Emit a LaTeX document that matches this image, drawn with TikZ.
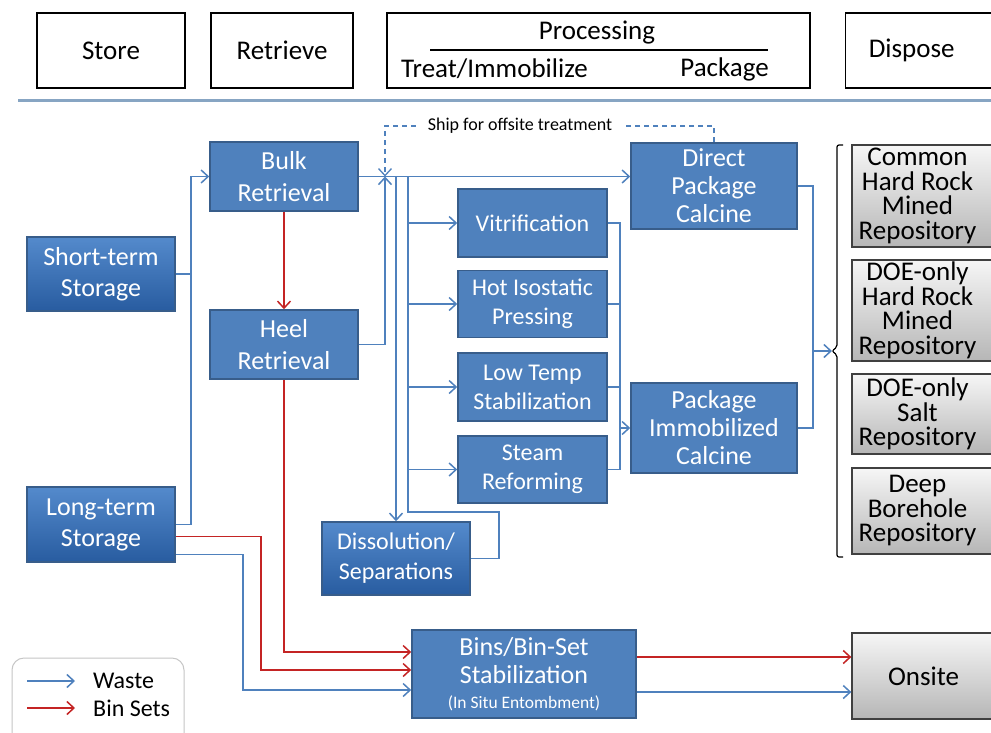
\documentclass[tikz,border=0pt]{standalone}
\usepackage{fontspec}
\setmainfont{Carlito}
\usetikzlibrary{arrows.meta,calc}
\definecolor{wblue}{RGB}{79,129,189}
\definecolor{bfill}{RGB}{79,129,189}
\definecolor{btop}{RGB}{84,138,204}
\definecolor{bbot}{RGB}{40,92,160}
\definecolor{bedge}{RGB}{56,93,138}
\definecolor{rline}{RGB}{196,36,36}
\definecolor{hline}{RGB}{135,165,195}
\definecolor{gtop}{RGB}{246,246,246}
\definecolor{gbot}{RGB}{182,182,182}
\definecolor{gedge}{RGB}{64,64,64}
\newcommand{\repotext}[1]{\hspace*{-12pt}\parbox{130pt}{\centering\setlength\lineskiplimit{-20pt}#1}}
\begin{document}
\begin{tikzpicture}[x=1pt,y=-1pt,
  >={Straight Barb[length=7pt,width=13pt]},
  hbox/.style={draw=black, line width=1.3pt, fill=white, inner sep=0pt, font=\fontsize{27}{32}\selectfont},
  htext/.style={inner sep=0pt, font=\fontsize{27}{32}\selectfont},
  bbox/.style={draw=bedge, line width=1.6pt, fill=bfill, text=white, align=center, inner sep=0pt, font=\fontsize{25}{28}\selectfont},
  bgrad/.style={bbox, top color=btop, bottom color=bbot},
  gbox/.style={draw=gedge, line width=1.3pt, top color=gtop, bottom color=gbot, inner sep=0pt, font=\fontsize{27}{24.5}\selectfont},
  wl/.style={draw=wblue, line width=1.5pt},
  rl/.style={draw=rline, line width=1.5pt},
  dl/.style={draw=wblue, line width=1.3pt, dash pattern=on 5pt off 4pt}
]
\useasboundingbox (0,0) rectangle (991,732);
\fill[white] (0,0) rectangle (991,732);

% header
\node[hbox, minimum width=148, minimum height=75] (store) at (111,50.5) {Store};
\node[hbox, minimum width=142, minimum height=75] (retr) at (282,50.5) {Retrieve};
\node[hbox, minimum width=423, minimum height=75] (proc) at (598.5,50.5) {};
\node[htext] (ptitle) at (597,33) {Processing};
\coordinate (pl1) at (430,50);
\coordinate (pl2) at (768,50);
\draw[line width=1.3pt] (pl1) -- (pl2);
\node[htext, anchor=west] (treat) at (401,69) {Treat/Immobilize};
\node[htext, anchor=east] (pack) at (769,69) {Package};
\node[hbox, minimum width=150, minimum height=75, anchor=west] (disp) at (845,50.5) {\hspace*{-18pt}Dispose};
\coordinate (hl1) at (18,100);
\coordinate (hl2) at (991,100);
\draw[hline, line width=3pt] (hl1) -- (hl2);

% blue boxes
\node[bgrad, minimum width=148, minimum height=74, font=\fontsize{26}{31}\selectfont] (st) at (101,274) {Short-term\\Storage};
\node[bgrad, minimum width=148, minimum height=75, font=\fontsize{26}{31}\selectfont] (lt) at (101,524.5) {Long-term\\Storage};
\node[bbox, minimum width=148, minimum height=69, font=\fontsize{26}{32}\selectfont] (bulk) at (284,176.5) {Bulk\\Retrieval};
\node[bbox, minimum width=148, minimum height=69, font=\fontsize{26}{32}\selectfont] (heel) at (284,344.5) {Heel\\Retrieval};
\node[bbox, minimum width=149, minimum height=68, font=\fontsize{24}{29}\selectfont] (vit) at (532.5,223) {Vitrification};
\node[bbox, minimum width=149, minimum height=67, font=\fontsize{24}{29}\selectfont] (hip) at (532.5,304) {Hot Isostatic\\Pressing};
\node[bbox, minimum width=149, minimum height=68, font=\fontsize{24}{29}\selectfont] (lts) at (532.5,387) {Low Temp\\Stabilization};
\node[bbox, minimum width=149, minimum height=67, font=\fontsize{24}{29}\selectfont] (steam) at (532.5,469.5) {Steam\\Reforming};
\node[bbox, minimum width=166, minimum height=86, font=\fontsize{26}{28}\selectfont] (dpc) at (714,186) {Direct\\Package\\Calcine};
\node[bbox, minimum width=166, minimum height=90, font=\fontsize{26}{28}\selectfont] (pic) at (714,428) {Package\\Immobilized\\Calcine};
\node[bgrad, minimum width=148, minimum height=73, font=\fontsize{24}{30}\selectfont] (diss) at (396,558.5) {Dissolution/\\Separations};
\node[bbox, minimum width=224, minimum height=88, font=\fontsize{26}{28}\selectfont] (bins) at (524,674) {Bins/Bin-Set\\Stabilization\\[-3pt]{\fontsize{17.5}{20}\selectfont (In Situ Entombment)}};

% gray boxes
\node[gbox, minimum width=143, minimum height=102] (r1) at (923.5,196) {\repotext{Common\\Hard Rock\\Mined\\Repository}};
\node[gbox, minimum width=143, minimum height=101] (r2) at (923.5,310.5) {\repotext{DOE-only\\Hard Rock\\Mined\\Repository}};
\node[gbox, minimum width=143, minimum height=80] (r3) at (923.5,414) {\repotext{DOE-only\\Salt\\Repository}};
\node[gbox, minimum width=143, minimum height=86] (r4) at (923.5,511) {\repotext{Deep\\Borehole\\Repository}};
\node[gbox, minimum width=143, minimum height=86] (onsite) at (923.5,676) {Onsite};

% bracket
\coordinate (bt) at (843,145);
\coordinate (bb) at (843,557);
\coordinate (brk) at (832,351);
\draw[line width=1.2pt, rounded corners=2pt] (bt) -- (837,145) -- (837,347) -- (brk) -- (837,355) -- (837,557) -- (bb);

% connector x positions
\coordinate (tr) at (191,0);
\coordinate (jx) at (385,0);
\coordinate (tk) at (408,0);
\coordinate (cx) at (620,0);
\coordinate (ox) at (813,0);
\coordinate (lb) at (408,512);

% waste connectors
\draw[wl,->] (lt.east) -| (tr |- bulk.west) -- (bulk.west);
\draw[wl] (st.east) -- (st.east -| tr);
\draw[wl,->] (bulk.east) -- (dpc.west |- bulk.east);
\draw[wl,->] (heel.east) -| (jx |- bulk.east);
\draw[wl,->] (diss.north |- bulk.east) -- (diss.north);
\draw[wl] (diss.east) -- ++(28,0) |- (lb) -- (tk |- bulk.east);
\draw[wl,->] (tk |- vit.west) -- (vit.west);
\draw[wl,->] (tk |- hip.west) -- (hip.west);
\draw[wl,->] (tk |- lts.west) -- (lts.west);
\draw[wl,->] (tk |- steam.west) -- (steam.west);
\draw[wl] (vit.east) -| (cx |- steam.east) -- (steam.east);
\draw[wl] (hip.east) -- (hip.east -| cx);
\draw[wl] (lts.east) -- (lts.east -| cx);
\draw[wl,->] (cx |- pic.west) -- (pic.west);
\draw[wl] (dpc.east) -| (ox |- pic.east) -- (pic.east);
\draw[wl,->] (ox |- brk) -- (brk);

% ship for offsite
\node[inner sep=0pt, font=\fontsize{18}{20}\selectfont] (ship) at (520,126) {Ship for offsite treatment};
\draw[dl] (dpc.north) |- ([xshift=12pt]ship.east);
\draw[dl,->] ([xshift=-12pt]ship.west) -| (jx |- bulk.east);

% bin sets
\draw[rl,->] (bulk.south) -- (heel.north);
\draw[rl,->] (heel.south) |- ([yshift=22pt]bins.west);
\draw[rl,->] ([yshift=-12pt]lt.east) -- ++(85,0) |- ([yshift=4pt]bins.west);
\draw[wl,->] ([yshift=-30pt]lt.east) -- ++(67,0) |- ([yshift=-16pt]bins.west);
\draw[rl,->] ([yshift=17pt]bins.east) -- ([yshift=17pt]bins.east -| onsite.west);
\draw[wl,->] ([yshift=-18pt]bins.east) -- ([yshift=-18pt]bins.east -| onsite.west);

% legend
\coordinate (lg1) at (12,658);
\coordinate (lg2) at (184,770);
\draw[draw=gray!45, line width=1pt, fill=white, rounded corners=12pt] (lg1) rectangle (lg2);
\node[inner sep=0pt, anchor=west, font=\fontsize{24}{28}\selectfont] (lw) at (93,681) {Waste};
\node[inner sep=0pt, anchor=west, font=\fontsize{24}{28}\selectfont] (lr) at (93,708) {Bin Sets};
\draw[wl,->] ([xshift=-66pt]lw.west) -- ([xshift=-18pt]lw.west);
\draw[rl,->] ([xshift=-66pt]lr.west) -- ([xshift=-18pt]lr.west);
\end{tikzpicture}
\end{document}
